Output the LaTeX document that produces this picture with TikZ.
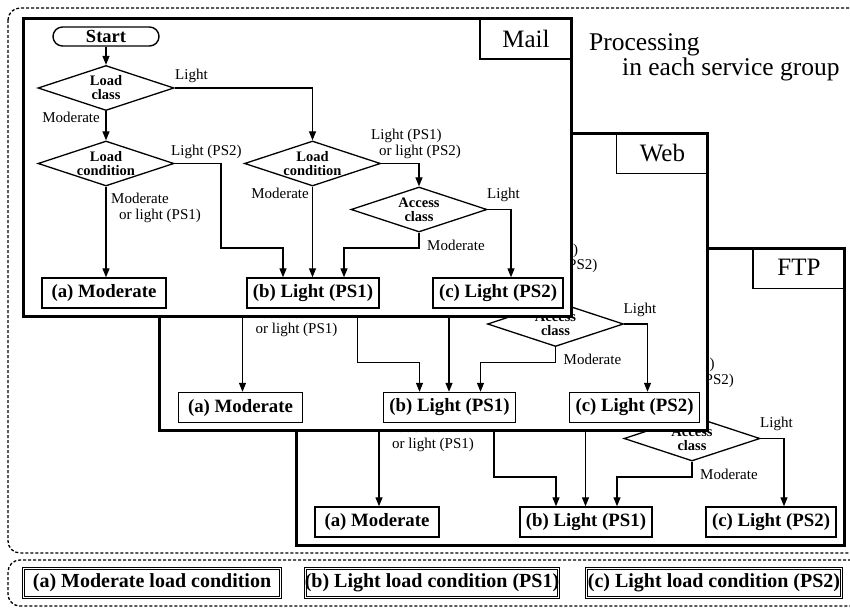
\documentclass[tikz,border=0pt]{standalone}
\usepackage{fontspec}
\setmainfont{Liberation Serif}
\usetikzlibrary{arrows.meta,shapes.geometric,calc}

\tikzset{
  conn/.style={line width=1.25pt},
  arr/.style={conn,-{Triangle[length=9pt,width=7pt]}},
  decision/.style={diamond, draw, line width=1.3pt, fill=white, inner sep=0pt,
    minimum width=136pt, minimum height=45pt},
  dtext/.style={font=\fontsize{14.5}{14}\selectfont\bfseries, align=center, inner sep=0pt},
  outcome/.style={draw, line width=1.4pt, fill=white, minimum height=30pt, inner sep=0pt,
    font=\fontsize{18.8}{20}\selectfont\bfseries},
  startbox/.style={draw, line width=1.4pt, fill=white, rounded corners=9.5pt,
    minimum width=106pt, minimum height=19pt, inner sep=0pt,
    font=\fontsize{18.5}{20}\selectfont\bfseries},
  elabel/.style={font=\fontsize{15}{15.5}\selectfont, inner sep=0pt, align=left},
  panel/.style={draw, line width=3pt, fill=white, minimum width=548pt, minimum height=297pt},
  tabbox/.style={draw, line width=1.1pt, minimum width=92pt, minimum height=41pt,
    font=\fontsize{25}{26}\selectfont},
  dashbox/.style={line width=1.3pt, dash pattern=on 3pt off 2pt, rounded corners=12pt},
  legend/.style={draw, line width=1.6pt, minimum height=31pt, inner sep=0pt,
    font=\fontsize{20}{22}\selectfont\bfseries},
  legendin/.style={line width=0.8pt},
}

\begin{document}
\begin{tikzpicture}[x=1pt, y=-1pt]
  \clip (0,0) rectangle (850,607);

  % outer dashed groups
  \draw[dashbox] (8,8) rectangle (880,553);
  \draw[dashbox] (8,560) rectangle (880,606);

  \node[font=\fontsize{25.5}{25}\selectfont, align=left, anchor=north west, inner sep=0pt] (proc)
    at (589,33) {Processing\\\hspace*{33pt}in each service group};

  % one flowchart per service group, back to front
  \foreach \nm/\dx/\dy/\ttl in {ftp/273/229/FTP, web/136.5/114.5/Web, mail/0/0/Mail}{
    \begin{scope}[shift={(\dx,\dy)}, name prefix/.expanded=\nm-]
      \node[panel] (frame) at (297,167.5) {};

      \node[startbox] (start) at (106,36.5) {Start};
      \node[decision] (lc1) at (106,88) {};
      \node[dtext] (lc1t) at (lc1) {Load\\class};
      \node[decision] (cond1) at (106,163.5) {};
      \node[dtext] (cond1t) at (cond1) {Load\\condition};
      \node[decision] (cond2) at (312.5,163.5) {};
      \node[dtext] (cond2t) at (cond2) {Load\\condition};
      \node[decision] (acc) at (419,209.5) {};
      \node[dtext] (acct) at (acc) {Access\\class};

      \node[outcome, minimum width=124pt] (oa) at (104,293) {(a) Moderate};
      \node[outcome, minimum width=132pt] (ob) at (313,293) {(b) Light (PS1)};
      \node[outcome, minimum width=130pt] (oc) at (498,293) {(c) Light (PS2)};

      \coordinate (jl) at (221,248);

      \draw[arr] (start.south) -- (lc1.north);
      \draw[arr] (lc1.south) -- (cond1.north);
      \draw[arr] (lc1.east) -| (cond2.north);
      \draw[arr] (cond1.east) -| (jl) -| ([xshift=-30pt]ob.north);
      \draw[arr] (cond1.south) -- (cond1.south |- oa.north);
      \draw[arr] (cond2.south) -- (cond2.south |- ob.north);
      \draw[arr] (cond2.east) -| (acc.north);
      \draw[arr] (acc.east) -| ([xshift=13pt]oc.north);
      \draw[arr] (acc.south) -- (acc.south |- jl) -| ([xshift=31pt]ob.north);

      \node[elabel, anchor=west] (l1) at (175,76) {Light};
      \node[elabel, anchor=east] (l2) at (100,117) {Moderate};
      \node[elabel, anchor=west] (l3) at (171,152) {Light (PS2)};
      \node[elabel, anchor=north west] (l4) at (111,193) {Moderate\\\hspace*{8pt}or light (PS1)};
      \node[elabel, anchor=east] (l5) at (309,193) {Moderate};
      \node[elabel, anchor=north west] (l6) at (371,129) {Light (PS1)\\\hspace*{8pt}or light (PS2)};
      \node[elabel, anchor=west] (l7) at (487,195) {Light};
      \node[elabel, anchor=west] (l8) at (427,245) {Moderate};

      \node[tabbox, anchor=north east] (tab) at (frame.north east) {\ttl};
    \end{scope}
  }

  % legend of the three outcomes, each in a double frame
  \node[legend, minimum width=259pt] (lga) at (152,583) {(a) Moderate load condition};
  \node[legend, minimum width=255pt] (lgb) at (432,583) {(b) Light load condition (PS1)};
  \node[legend, minimum width=257pt] (lgc) at (714,583) {(c) Light load condition (PS2)};
  \foreach \lg in {lga,lgb,lgc}{
    \draw[legendin] ([xshift=2.6pt,yshift=2.6pt]\lg.south west)
      rectangle ([xshift=-2.6pt,yshift=-2.6pt]\lg.north east);
  }
\end{tikzpicture}
\end{document}
